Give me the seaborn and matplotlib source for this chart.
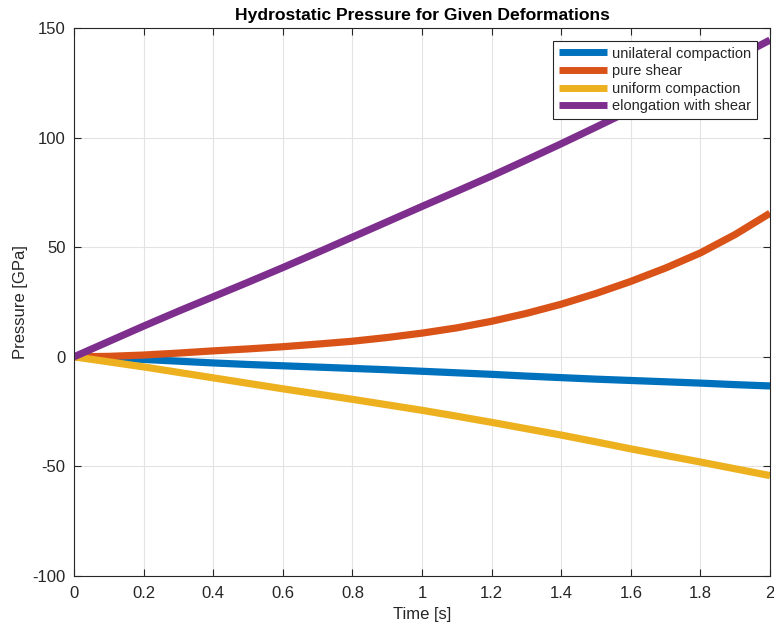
import numpy as np
import pandas as pd
import matplotlib
matplotlib.use("Agg")
import matplotlib.pyplot as plt
import seaborn as sns

time_s = [0.0, 0.1, 0.2, 0.3, 0.4, 0.5, 0.6, 0.7, 0.8, 0.9, 1.0,
          1.1, 1.2, 1.3, 1.4, 1.5, 1.6, 1.7, 1.8, 1.9, 2.0]
unilateral_compaction = [0, -0.6, -1.2, -2.0, -2.8, -3.5, -4.1, -4.7, -5.3, -5.9, -6.6,
                         -7.3, -8.0, -8.8, -9.5, -10.2, -10.8, -11.4, -12.0, -12.7, -13.3]
pure_shear = [0, 0.2, 0.8, 1.7, 2.7, 3.6, 4.6, 5.8, 7.1, 8.8, 10.8,
              13.2, 16.2, 19.8, 24.0, 28.9, 34.4, 40.5, 47.4, 55.8, 65.5]
uniform_compaction = [0, -2.3, -4.6, -7.1, -9.6, -12.1, -14.6, -17.0, -19.4, -21.9, -24.4,
                      -27.1, -29.9, -32.8, -35.7, -38.8, -42.0, -45.0, -48.0, -51.1, -54.2]
elongation_with_shear = [0, 7.0, 14.0, 20.8, 27.4, 34.0, 40.7, 47.6, 54.6, 61.6, 68.6,
                         75.5, 82.5, 89.8, 97.2, 104.8, 112.5, 120.3, 128.2, 136.2, 144.5]

series_names = ["unilateral compaction", "pure shear", "uniform compaction", "elongation with shear"]
series_values = [unilateral_compaction, pure_shear, uniform_compaction, elongation_with_shear]
colors = ["#0072BD", "#D95319", "#EDB120", "#7E2F8E"]

x_ticks = [0, 0.2, 0.4, 0.6, 0.8, 1, 1.2, 1.4, 1.6, 1.8, 2]
x_ticklabels = ["0", "0.2", "0.4", "0.6", "0.8", "1", "1.2", "1.4", "1.6", "1.8", "2"]
y_ticks = [-100, -50, 0, 50, 100, 150]
y_ticklabels = ["-100", "-50", "0", "50", "100", "150"]

rows = []
for name, vals in zip(series_names, series_values):
    for t, v in zip(time_s, vals):
        rows.append({"Time": t, "Pressure": v, "Deformation": name})
df = pd.DataFrame(rows)

sns.set_theme(style="white")
plt.rcParams["font.family"] = ["Liberation Sans", "DejaVu Sans"]
plt.rcParams["axes.unicode_minus"] = False

fig = plt.figure(figsize=(7.74, 6.30), dpi=100)
ax = fig.add_axes([74/774, 1-576/630, (770-74)/774, (576-28)/630])

sns.lineplot(data=df, x="Time", y="Pressure", hue="Deformation",
             hue_order=series_names, palette=colors, linewidth=5.2,
             ax=ax, legend=False, sort=True)
for ln in ax.get_lines():
    ln.set_solid_joinstyle("round")
    ln.set_solid_capstyle("butt")

ax.set_xlim(0, 2)
ax.set_ylim(-100, 150)
ax.set_xticks(x_ticks)
ax.set_xticklabels(x_ticklabels)
ax.set_yticks(y_ticks)
ax.set_yticklabels(y_ticklabels)
ax.grid(True, color="#e3e3e3", linewidth=0.8)
ax.set_axisbelow(True)
for s in ax.spines.values():
    s.set_color("#262626")
    s.set_linewidth(0.8)
ax.tick_params(direction="in", length=5, width=0.8, color="#262626",
               labelsize=12, labelcolor="#262626", top=True, right=True,
               bottom=True, left=True)
ax.tick_params(axis="x", pad=7.5)
ax.tick_params(axis="y", pad=6)
ax.set_xlabel("Time [s]", fontsize=12, color="#262626", labelpad=4)
ax.set_ylabel("Pressure [GPa]", fontsize=12, color="#262626", labelpad=3)
ax.set_title("Hydrostatic Pressure for Given Deformations", fontsize=12.6,
             fontweight="bold", color="black", pad=6)

handles = [plt.Line2D([], [], color=c, linewidth=5, solid_capstyle="butt") for c in colors]
leg = ax.legend(handles, series_names, loc="upper right", fontsize=10.5,
                frameon=True, fancybox=False, shadow=False, framealpha=1,
                edgecolor="#262626", labelspacing=0.25, handlelength=3.3,
                handletextpad=0.35, borderpad=0.4, borderaxespad=0.87)
leg.get_frame().set_linewidth(0.8)

fig.savefig("out.png", dpi=100)
